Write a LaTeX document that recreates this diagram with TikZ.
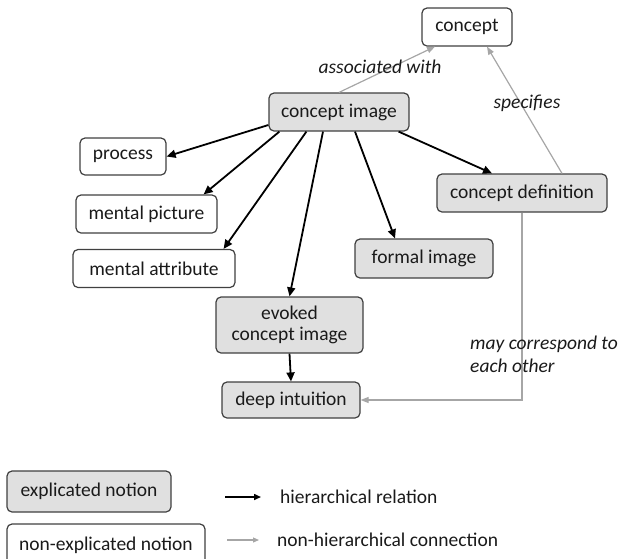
\documentclass[tikz,border=0pt]{standalone}
\usepackage{fontspec}
\setmainfont{Carlito}
\usetikzlibrary{arrows.meta}
\definecolor{txt}{HTML}{1A1A1A}
\definecolor{boxline}{HTML}{404040}
\definecolor{boxfill}{HTML}{E0E0E0}
\definecolor{soft}{HTML}{A6A6A6}
\tikzset{
  notion/.style={draw=boxline, line width=1.2pt, rounded corners=5pt, inner sep=0pt,
    text=txt, font=\fontsize{19.5}{21}\selectfont, align=center},
  explicated/.style={notion, fill=boxfill},
  plain/.style={notion, fill=white},
  hier/.style={draw=black, line width=1.8pt, -{Triangle[length=9pt,width=8pt]}},
  nonhier/.style={draw=soft, line width=1.2pt, -{Triangle[length=8pt,width=6pt]}},
  lbl/.style={text=txt, font=\fontsize{19.5}{23}\selectfont\itshape, inner sep=0pt},
  legtxt/.style={text=txt, font=\fontsize{19.5}{21}\selectfont, inner sep=0pt, anchor=west}
}
\begin{document}
\begin{tikzpicture}[x=1pt,y=-1pt]
\useasboundingbox (0,0) rectangle (619,558);

% main notions
\node[plain, minimum width=90pt, minimum height=38pt] (c) at (467,27) {concept};
\node[explicated, minimum width=140pt, minimum height=38pt] (ci) at (339,112) {concept image};
\node[plain, minimum width=86pt, minimum height=37pt] (pr) at (123,156.5) {process};
\node[plain, minimum width=141pt, minimum height=38pt] (mp) at (146.5,214) {mental picture};
\node[plain, minimum width=162pt, minimum height=38pt] (ma) at (154,268.5) {mental attribute};
\node[explicated, minimum width=170pt, minimum height=38pt] (cd) at (522,193) {concept definition};
\node[explicated, minimum width=138pt, minimum height=39pt] (fi) at (424,258.5) {formal image};
\node[explicated, minimum width=147pt, minimum height=56pt] (ev) at (289.5,325) {evoked\\concept image};
\node[explicated, minimum width=138pt, minimum height=36pt] (di) at (291,400) {deep intuition};

% hierarchical relations
\draw[hier] ([yshift=-13pt]ci.west) -- (pr.east);
\draw[hier] ([xshift=11pt]ci.south west) -- ([xshift=-14pt]mp.north east);
\draw[hier] ([xshift=38pt]ci.south west) -- ([xshift=-12pt]ma.north east);
\draw[hier] ([xshift=-16pt]ci.south) -- (ev.north);
\draw[hier] ([xshift=16pt]ci.south) -- ([xshift=-29pt]fi.north);
\draw[hier] ([xshift=-11pt]ci.south east) -- ([xshift=-30pt]cd.north);
\draw[hier] (ev.south) -- (di.north);

% non-hierarchical connections
\draw[nonhier] (ci.north) -- ([xshift=-32pt]c.south);
\draw[nonhier] ([xshift=40pt]cd.north) -- ([xshift=20pt]c.south);
\draw[nonhier] (cd.south) |- (di.east);

% connection labels
\node[lbl] (la) at (380,67) {associated with};
\node[lbl] (ls) at (527,103) {specifies};
\node[lbl, anchor=north west, align=left] (lm) at (470,336) {may correspond to\\each other};

% legend (lower box runs past the bottom edge)
\node[explicated, minimum width=164pt, minimum height=41pt] (le) at (89,491.5) {explicated notion};
\node[plain, minimum width=198pt, minimum height=42pt] (ln) at (106,545) {non-explicated notion};
\coordinate (ha) at (225,497);
\coordinate (hb) at (261,497);
\coordinate (na) at (227,540);
\coordinate (nb) at (259,540);
\draw[hier, line width=1.5pt, -{Triangle[length=7pt,width=6pt]}] (ha) -- (hb);
\draw[nonhier, -{Triangle[length=6pt,width=5pt]}] (na) -- (nb);
\node[legtxt] (lh) at (280,497) {hierarchical relation};
\node[legtxt] (lnh) at (277,540) {non-hierarchical connection};
\end{tikzpicture}
\end{document}
